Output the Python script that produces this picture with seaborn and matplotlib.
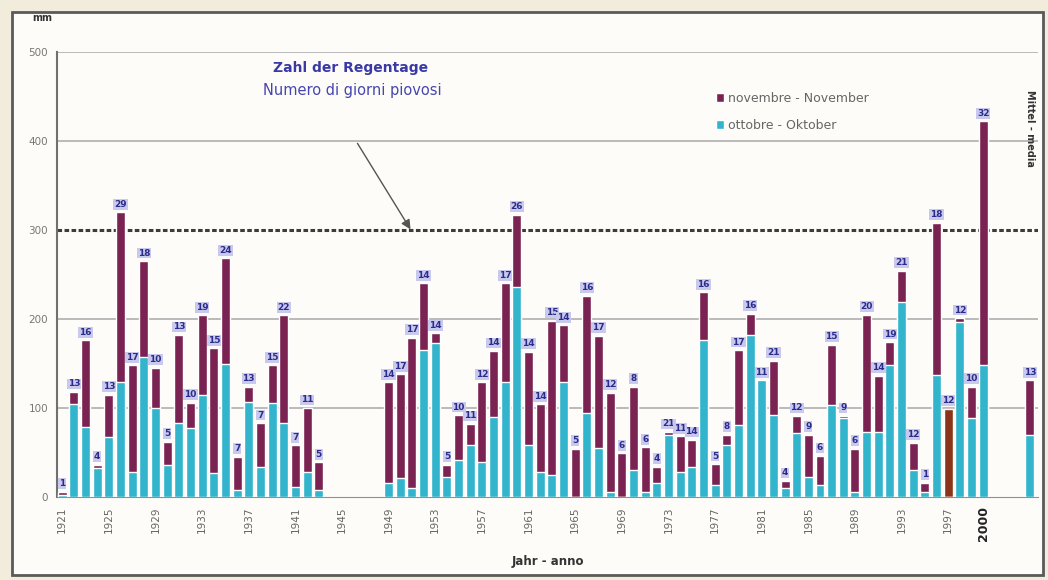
import numpy as np
import pandas as pd
import seaborn as sns
import matplotlib.pyplot as plt
from matplotlib.patches import Rectangle

# Niederschlag Oktober + November (mm) und Zahl der Regentage
anni = [1921, 1922, 1923, 1924, 1925, 1926, 1927, 1928, 1929, 1930,
        1931, 1932, 1933, 1934, 1935, 1936, 1937, 1938, 1939, 1940,
        1941, 1942, 1943,
        1949, 1950, 1951, 1952, 1953, 1954, 1955, 1956, 1957, 1958,
        1959, 1960, 1961, 1962, 1963, 1964, 1965, 1966, 1967, 1968,
        1969, 1970, 1971, 1972, 1973, 1974, 1975, 1976, 1977, 1978,
        1979, 1980, 1981, 1982, 1983, 1984, 1985, 1986, 1987, 1988,
        1989, 1990, 1991, 1992, 1993, 1994, 1995, 1996, 1997, 1998,
        1999, 2000, 2004]
ottobre = [2, 105, 79, 33, 67, 129, 28, 157, 100, 36,
           83, 78, 115, 27, 150, 8, 107, 34, 106, 83,
           11, 28, 8,
           16, 21, 10, 165, 173, 22, 42, 58, 39, 90,
           129, 236, 58, 28, 25, 129, 0, 94, 55, 6,
           0, 30, 6, 16, 70, 28, 34, 176, 13, 58,
           81, 182, 131, 92, 10, 72, 22, 13, 103, 89,
           6, 73, 73, 148, 219, 30, 6, 137, 0, 197,
           89, 148, 70]
totale = [6, 118, 176, 36, 115, 320, 148, 265, 145, 62,
          182, 106, 204, 167, 268, 45, 124, 83, 148, 204,
          58, 100, 39,
          129, 138, 179, 240, 184, 36, 92, 82, 129, 164,
          240, 317, 163, 104, 198, 193, 54, 226, 181, 117,
          49, 124, 56, 34, 73, 68, 64, 230, 37, 70,
          165, 206, 131, 153, 18, 91, 70, 46, 171, 91,
          54, 205, 136, 174, 254, 61, 16, 308, 99, 201,
          124, 422, 131]
giorni = [1, 13, 16, 4, 13, 29, 17, 18, 10, 5,
          13, 10, 19, 15, 24, 7, 13, 7, 15, 22,
          7, 11, 5,
          14, 17, 17, 14, 14, 5, 10, 11, 12, 14,
          17, 26, 14, 14, 15, 14, 5, 16, 17, 12,
          6, 8, 6, 4, 21, 11, 14, 16, 5, 8,
          17, 16, 11, 21, 4, 12, 9, 6, 15, 9,
          6, 20, 14, 19, 21, 12, 1, 18, 12, 12,
          10, 32, 13]
tick_anni = [1921, 1925, 1929, 1933, 1937, 1941, 1945, 1949, 1953, 1957,
             1961, 1965, 1969, 1973, 1977, 1981, 1985, 1989, 1993, 1997, 2000]

df = pd.DataFrame({'anno': anni, 'ottobre': ottobre, 'totale': totale, 'giorni': giorni})

sns.set_style('white')
plt.rcParams['font.family'] = ['DejaVu Sans']

viola = '#7a2352'
ciano = '#31b4cc'

fig = plt.figure(figsize=(10.48, 5.8), dpi=100)
fig.patch.set_facecolor('#f1ecdb')
fig.patches.append(Rectangle((12 / 1048, 5 / 580), 1031 / 1048, 563 / 580,
                             transform=fig.transFigure, facecolor='#fdfcf8',
                             edgecolor='#5a5a5a', lw=2, zorder=-10))
ax = fig.add_axes([57 / 1048, 83 / 580, 981 / 1048, 445 / 580])
ax.set_zorder(5)
ax.set_facecolor('#fdfcf8')

sns.barplot(data=df, x='anno', y='totale', native_scale=True, color=viola,
            saturation=1, width=0.77, errorbar=None, ax=ax, zorder=3,
            label='novembre - November')
n_viola = len(ax.patches)
sns.barplot(data=df, x='anno', y='ottobre', native_scale=True, color=ciano,
            saturation=1, width=0.77, errorbar=None, ax=ax, zorder=4,
            label='ottobre - Oktober')

# 1997: November-Balken braun
for p in ax.patches[:n_viola]:
    if abs(p.get_x() + p.get_width() / 2 - 1997) < 0.1:
        p.set_facecolor('#8c3418')

for a, t, g in zip(df['anno'], df['totale'], df['giorni']):
    ax.text(a, t + 4, str(g), ha='center', va='bottom', fontsize=6.5,
            fontweight='bold', color='#2b2b8c', zorder=6,
            bbox=dict(boxstyle='square,pad=0.1', fc='#c9c9ee', ec='none'))

for y in [100, 200, 400, 500]:
    ax.axhline(y, color='#b5b5b5', lw=1.3, zorder=1)
ax.axhline(300, color='#3c3c3c', lw=2.2, ls=(0, (1.5, 0.8)), zorder=2)

ax.set_xlim(1920.55, 2004.7)
ax.set_ylim(0, 500)
ax.set_yticks([0, 100, 200, 300, 400, 500])
ax.tick_params(axis='y', labelsize=7.5, colors='#777777', length=3)
ax.set_xticks(tick_anni)
ax.set_xticklabels([str(t) for t in tick_anni], rotation=90, fontsize=7.5,
                   color='#666666')
ax.tick_params(axis='x', length=3, color='#999999')
lbl = ax.get_xticklabels()[-1]
lbl.set_fontweight('bold')
lbl.set_fontsize(9)
lbl.set_color('#222222')
ax.set_xlabel('Jahr - anno', fontsize=8.5, fontweight='bold', color='#333333', labelpad=10)
ax.set_ylabel('')
for s in ['top', 'right']:
    ax.spines[s].set_visible(False)
ax.spines['left'].set_color('#707070')
ax.spines['left'].set_linewidth(1.5)
ax.spines['bottom'].set_color('#909090')

ax.legend(loc='upper left', bbox_to_anchor=(0.66, 0.935), frameon=False,
          fontsize=9, handlelength=0.7, handleheight=0.7, handletextpad=0.3,
          labelspacing=1.1, labelcolor='#666666')

ax.text(1945.7, 482, 'Zahl der Regentage', ha='center', va='center', fontsize=10,
        fontweight='bold', color='#3a3aa6')
ax.text(1945.9, 457, 'Numero di giorni piovosi', ha='center', va='center',
        fontsize=10.5, color='#4646b0')
ax.annotate('', xy=(1951.0, 298), xytext=(1946.2, 400),
            arrowprops=dict(arrowstyle='-|>', color='#555555', lw=1,
                            mutation_scale=14))

fig.text(42 / 1048, 1 - 18 / 580, 'mm', fontsize=7, fontweight='bold',
         color='#333333', ha='center', va='center')
fig.text(1030 / 1048, 1 - 128 / 580, 'Mittel - media', rotation=270, fontsize=7,
         fontweight='bold', color='#333333', ha='center', va='center', zorder=10)

fig.savefig('out.png', dpi=100, facecolor=fig.get_facecolor())
